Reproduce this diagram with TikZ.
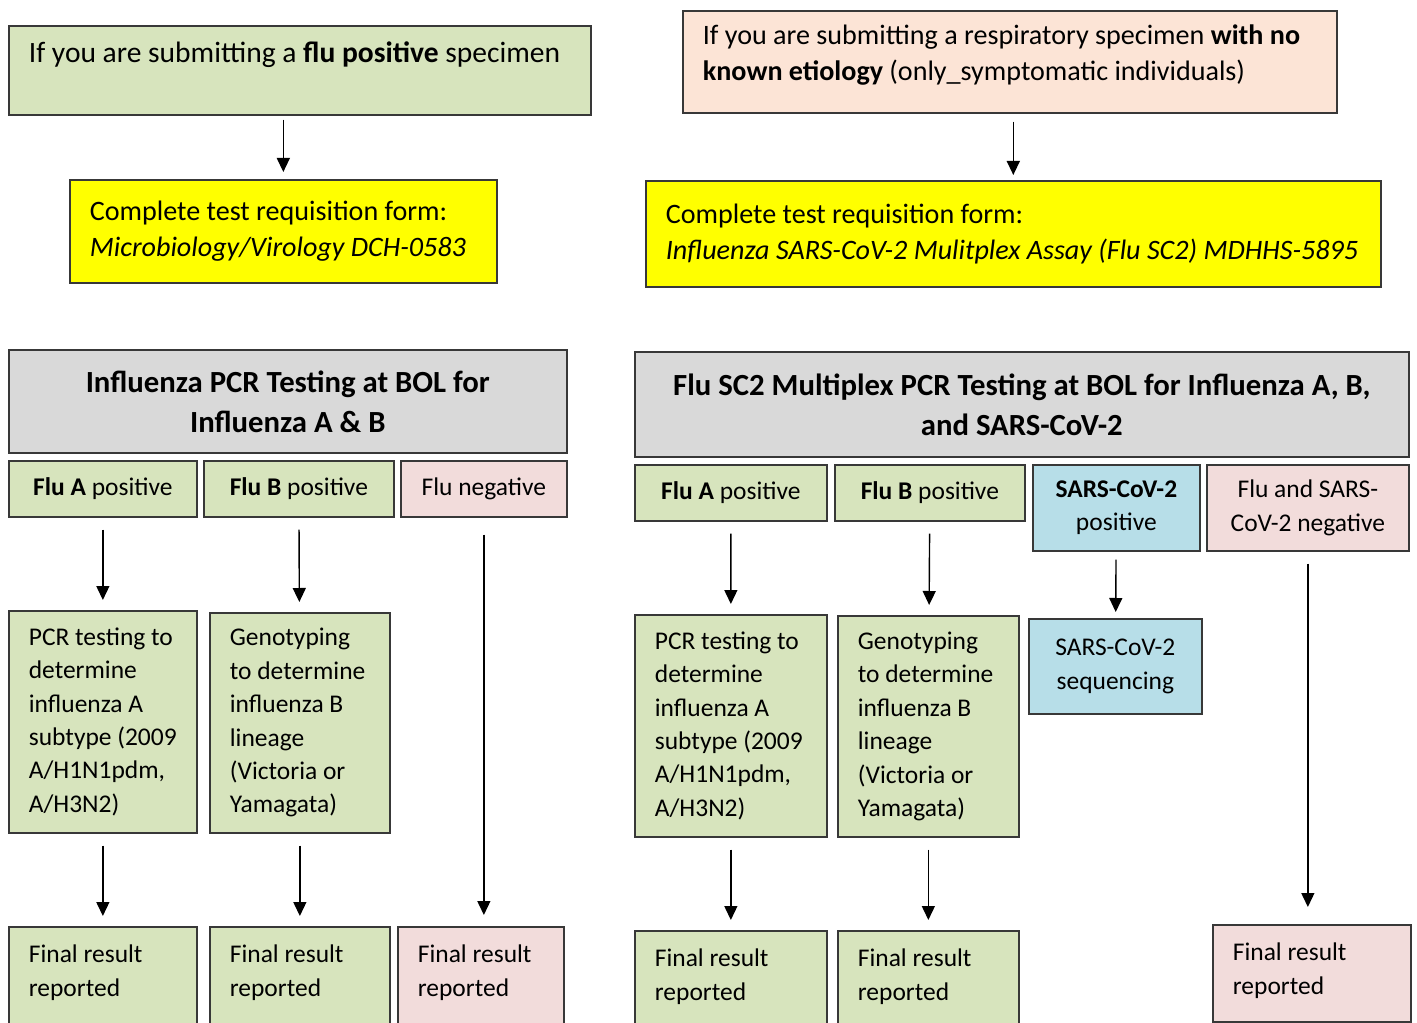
\documentclass[tikz,border=0pt]{standalone}
\usepackage{fontspec}
\setmainfont{Carlito}
\usetikzlibrary{arrows.meta}
\definecolor{flugreen}{HTML}{D7E4BD}
\definecolor{formyellow}{HTML}{FFFF00}
\definecolor{peach}{HTML}{FCE4D6}
\definecolor{headgray}{HTML}{D9D9D9}
\definecolor{negpink}{HTML}{F2DCDB}
\definecolor{covblue}{HTML}{B7DEE8}
\definecolor{edge}{HTML}{383838}

\begin{document}
\begin{tikzpicture}[x=0.02cm, y=-0.02cm]
	\tikzstyle{box}=[rectangle, draw=edge, line width=1pt, anchor=north west,
	inner xsep=0.4cm, inner ysep=0.1cm]
	\tikzstyle{bigtext}=[box, align=flush left, font=\fontsize{16}{20.5}\selectfont]
	\tikzstyle{header}=[box, fill=headgray, align=center,
	font=\fontsize{17.5}{22.8}\selectfont\bfseries]
	\tikzstyle{outcome}=[box, align=center, minimum height=1.12cm,
	font=\fontsize{14.5}{19}\selectfont]
	\tikzstyle{detail}=[box, align=flush left, font=\fontsize{14.5}{19}\selectfont]
	\tikzstyle{final}=[detail, text height=0.42cm, text depth=1.66cm, inner ysep=0.3cm]
	\tikzstyle{arrow}=[line width=0.8pt, -{Triangle[width=0.26cm, length=0.28cm]},
	shorten <=0.24cm, shorten >=0.2cm]

	\useasboundingbox (0,0) rectangle (1417,1023);
	\clip (0,0) rectangle (1417,1023);

	% submission and requisition forms
	\node[bigtext, fill=flugreen, text width=10.84cm, text height=0.43cm,
	text depth=0.73cm, inner ysep=0.31cm, font=\fontsize{16.8}{20.5}\selectfont] at (8,25) (flupos)
	{If you are submitting a \textbf{flu positive} specimen};
	\node[bigtext, fill=formyellow, text width=7.74cm, minimum height=2.06cm] at (69,179) (reqA)
	{Complete test requisition form:\\\textit{Microbiology/Virology DCH-0583}};
	\node[bigtext, fill=peach, text width=12.28cm, text height=0.43cm,
	text depth=1.11cm, inner ysep=0.25cm] at (682,10) (noetio)
	{If you are submitting a respiratory specimen \textbf{with no}\\\textbf{known etiology} (only\_symptomatic individuals)};
	\node[bigtext, fill=formyellow, text width=13.9cm, minimum height=2.12cm] at (645,180) (reqB)
	{Complete test requisition form:\\\mbox{\textit{Influenza SARS-CoV-2 Mulitplex Assay (Flu SC2) MDHHS-5895}}};

	% testing at BOL
	\node[header, minimum width=11.16cm, minimum height=2.06cm] at (8,349) (bolA)
	{Influenza PCR Testing at BOL for\\Influenza A \& B};
	\node[header, minimum width=15.48cm, minimum height=2.1cm] at (634,351) (bolB)
	{Flu SC2 Multiplex PCR Testing at BOL for Influenza A, B,\\and SARS-CoV-2};

	% outcomes
	\node[outcome, fill=flugreen, minimum width=3.76cm] at (8,460) (fluA1) {\textbf{Flu A} positive};
	\node[outcome, fill=flugreen, minimum width=3.8cm] at (203,460) (fluB1) {\textbf{Flu B} positive};
	\node[outcome, fill=negpink, minimum width=3.32cm] at (400,460) (fluneg1) {Flu negative};
	\node[outcome, fill=flugreen, minimum width=3.84cm] at (634,464) (fluA2) {\textbf{Flu A} positive};
	\node[outcome, fill=flugreen, minimum width=3.8cm] at (834,464) (fluB2) {\textbf{Flu B} positive};
	\node[outcome, fill=covblue, minimum width=3.34cm, minimum height=1.72cm] at (1032,464) (covpos)
	{\textbf{SARS-CoV-2}\\positive};
	\node[outcome, fill=negpink, minimum width=4.04cm, minimum height=1.72cm] at (1206,464) (fluneg2)
	{Flu and SARS-\\CoV-2 negative};

	% follow-up testing
	\node[detail, fill=flugreen, text width=2.96cm, minimum height=4.44cm] at (8,610) (pcrA1)
	{PCR testing to\\determine\\influenza A\\subtype (2009\\A/H1N1pdm,\\A/H3N2)};
	\node[detail, fill=flugreen, text width=2.8cm, minimum height=4.4cm] at (209,612) (genoB1)
	{Genotyping\\to determine\\influenza B\\lineage\\(Victoria or\\Yamagata)};
	\node[detail, fill=flugreen, text width=3.04cm, minimum height=4.44cm] at (634,614) (pcrA2)
	{PCR testing to\\determine\\influenza A\\subtype (2009\\A/H1N1pdm,\\A/H3N2)};
	\node[detail, fill=flugreen, text width=2.82cm, minimum height=4.42cm] at (837,615) (genoB2)
	{Genotyping\\to determine\\influenza B\\lineage\\(Victoria or\\Yamagata)};
	\node[outcome, fill=covblue, minimum width=3.46cm, minimum height=1.9cm] at (1028,618) (covseq)
	{SARS-CoV-2\\sequencing};

	% final results
	\node[final, fill=flugreen, text width=2.96cm] at (8,926) (resA1) {Final result\\reported};
	\node[final, fill=flugreen, text width=2.8cm] at (209,926) (resB1) {Final result\\reported};
	\node[final, fill=negpink, text width=2.52cm] at (397,926) (resN1) {Final result\\reported};
	\node[final, fill=flugreen, text width=3.04cm] at (634,930) (resA2) {Final result\\reported};
	\node[final, fill=flugreen, text width=2.82cm] at (837,930) (resB2) {Final result\\reported};
	\node[final, fill=negpink, text width=3.16cm, text depth=0.92cm] at (1212,924) (resN2) {Final result\\reported};

	\draw[arrow, shorten <=0.08cm, shorten >=0.14cm] (flupos.south -| reqA.north) -- (reqA.north);
	\draw[arrow, shorten <=0.16cm, shorten >=0.1cm] (noetio.south -| reqB.north) -- (reqB.north);

	\draw[arrow] (fluA1) -- (pcrA1);
	\draw[arrow] (fluB1) -- (genoB1);
	\draw[arrow, shorten <=0.34cm, shorten >=0.22cm] (fluneg1) -- (fluneg1 |- resN1.north);
	\draw[arrow] (pcrA1) -- (resA1);
	\draw[arrow] (genoB1) -- (resB1);

	\draw[arrow] (fluA2) -- (pcrA2);
	\draw[arrow] (fluB2) -- (genoB2);
	\draw[arrow, shorten <=0.16cm, shorten >=0.12cm] (covpos) -- (covseq);
	\draw[arrow, shorten >=0.34cm] (fluneg2) -- (fluneg2 |- resN2.north);
	\draw[arrow] (pcrA2) -- (resA2);
	\draw[arrow] (genoB2) -- (resB2);

\end{tikzpicture}
\end{document}
